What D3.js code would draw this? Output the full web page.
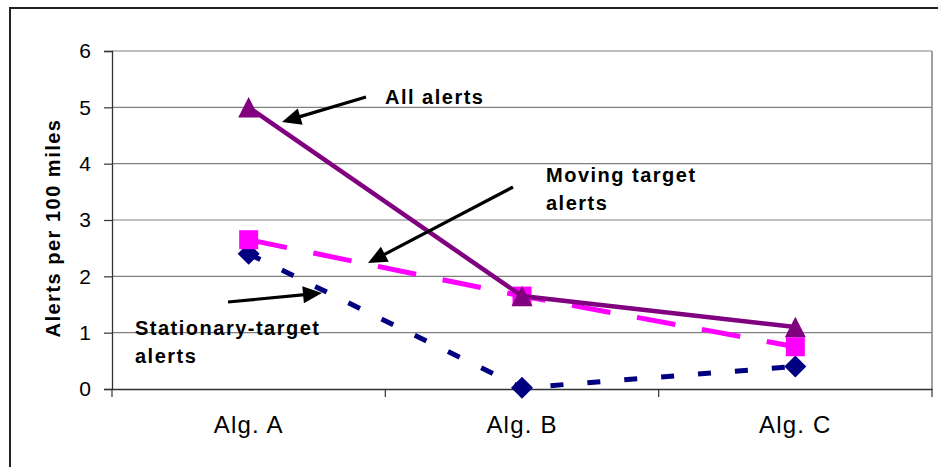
<!DOCTYPE html>
<html>
<head>
<meta charset="utf-8">
<script src="https://cdn.jsdelivr.net/npm/d3@7"></script>
<style>
  html, body { margin: 0; padding: 0; background: #fff; }
  svg { display: block; font-family: "Liberation Sans", Arial, sans-serif; }
</style>
</head>
<body>
<svg id="chart"></svg>
<script>
const categories = ["Alg. A", "Alg. B", "Alg. C"];
const allAlerts = [5.0, 1.65, 1.1];
const movingAlerts = [2.65, 1.65, 0.75];
const stationaryAlerts = [2.4, 0.02, 0.4];
const yTicks = [0, 1, 2, 3, 4, 5, 6];

const width = 938,
  height = 467,
  plotLeft = 112, plotRight = 932,   // plot area
  plotTop = 51, plotBottom = 389;

const svg = d3.select("#chart")
  .attr("width", width)
  .attr("height", height);

// chart border (runs off the right / bottom edge like the original)
svg.append("rect")
  .attr("x", 10).attr("y", 8)
  .attr("width", 960).attr("height", 480)
  .attr("fill", "none")
  .attr("stroke", "#222")
  .attr("stroke-width", 2);

const x = d3.scaleBand().domain(categories).range([plotLeft, plotRight]);
const y = d3.scaleLinear().domain([0, 6]).range([plotBottom, plotTop]);
const cx = d => x(d) + x.bandwidth() / 2;

// gridlines
svg.append("g")
  .selectAll("line")
  .data(yTicks.filter(t => t > 0))
  .join("line")
  .attr("x1", plotLeft).attr("x2", plotRight)
  .attr("y1", d => y(d)).attr("y2", d => y(d))
  .attr("stroke", "#808080")
  .attr("stroke-width", 1.2);

// right border of plot area
svg.append("line")
  .attr("x1", plotRight).attr("x2", plotRight)
  .attr("y1", plotTop).attr("y2", plotBottom)
  .attr("stroke", "#808080")
  .attr("stroke-width", 1.5);

// y axis
const yAxis = svg.append("g")
  .attr("transform", `translate(${plotLeft},0)`)
  .call(d3.axisLeft(y).tickValues(yTicks).tickFormat(d3.format("d")).tickSize(8).tickPadding(13));
yAxis.select(".domain").attr("stroke", "#333").attr("stroke-width", 1.3);
yAxis.selectAll(".tick line").attr("stroke", "#333").attr("stroke-width", 1.2);
yAxis.selectAll("text")
  .attr("font-size", 21)
  .attr("font-family", "Liberation Sans, Arial, sans-serif")
  .attr("fill", "#000");

// x axis: ticks sit on the category boundaries
const xAxis = svg.append("g")
  .attr("transform", `translate(0,${plotBottom})`)
  .call(d3.axisBottom(x).tickSize(0).tickPadding(27));
xAxis.select(".domain").attr("stroke", "#333").attr("stroke-width", 1.5);
xAxis.selectAll("text")
  .attr("font-size", 24)
  .attr("letter-spacing", 1.2)
  .attr("font-family", "Liberation Sans, Arial, sans-serif")
  .attr("fill", "#000");
xAxis.selectAll(".boundary")
  .data(categories.map(c => x(c)).concat([plotRight]))
  .join("line")
  .attr("class", "boundary")
  .attr("x1", d => d).attr("x2", d => d)
  .attr("y1", 0).attr("y2", 8)
  .attr("stroke", "#333")
  .attr("stroke-width", 1.2);

// y axis title
svg.append("text")
  .attr("transform", "translate(60,228) rotate(-90)")
  .attr("text-anchor", "middle")
  .attr("font-size", 20)
  .attr("font-weight", "bold")
  .attr("letter-spacing", 1.5)
  .text("Alerts per 100 miles");

// marker shapes, size = box width in px, centred on the point
const markTriangle = {draw(ctx, s) { const h = s * 0.98; ctx.moveTo(0, -h / 2); ctx.lineTo(s / 2, h / 2); ctx.lineTo(-s / 2, h / 2); ctx.closePath(); }};
const markSquare = {draw(ctx, s) { ctx.rect(-s / 2, -s / 2, s, s); }};
const markDiamond = {draw(ctx, s) { const r = s / 2; ctx.moveTo(0, -r); ctx.lineTo(r, 0); ctx.lineTo(0, r); ctx.lineTo(-r, 0); ctx.closePath(); }};

// series
const series = [
  {name: "Stationary-target alerts", values: stationaryAlerts, color: "#000080", width: 5, dash: "13,24", symbol: markDiamond, size: 22},
  {name: "Moving target alerts", values: movingAlerts, color: "#ff00ff", width: 5, dash: "39,27", symbol: markSquare, size: 19},
  {name: "All alerts", values: allAlerts, color: "#800080", width: 4.5, dash: null, symbol: markTriangle, size: 21}
];

const line = d3.line()
  .x((d, i) => cx(categories[i]))
  .y(d => y(d));

series.forEach(s => {
  const g = svg.append("g");
  g.append("path")
    .datum(s.values)
    .attr("d", line)
    .attr("fill", "none")
    .attr("stroke", s.color)
    .attr("stroke-width", s.width)
    .attr("stroke-dasharray", s.dash);
  g.selectAll("path.marker")
    .data(s.values)
    .join("path")
    .attr("class", "marker")
    .attr("transform", (d, i) => `translate(${cx(categories[i])},${y(d)})`)
    .attr("d", d3.symbol().type(s.symbol).size(s.size))
    .attr("fill", s.color);
});

// annotations
const notes = [
  {lines: ["All alerts"], tx: 385, ty: 104, from: [366, 97], to: [282, 122]},
  {lines: ["Moving target", "alerts"], tx: 546, ty: 182, from: [513, 187], to: [368, 263]},
  {lines: ["Stationary-target", "alerts"], tx: 135, ty: 335, from: [228, 302], to: [322, 293]}
];

const headLen = 19, headHalf = 8.5;
notes.forEach(n => {
  const t = svg.append("text")
    .attr("x", n.tx).attr("y", n.ty)
    .attr("font-size", 20)
    .attr("font-weight", "bold")
    .attr("letter-spacing", 1.5);
  n.lines.forEach((l, i) => {
    t.append("tspan").attr("x", n.tx).attr("dy", i ? 27.5 : 0).text(l);
  });

  const dx = n.to[0] - n.from[0], dy = n.to[1] - n.from[1];
  const len = Math.hypot(dx, dy), ux = dx / len, uy = dy / len;
  const bx = n.to[0] - ux * headLen, by = n.to[1] - uy * headLen;
  svg.append("line")
    .attr("x1", n.from[0]).attr("y1", n.from[1])
    .attr("x2", bx + ux * 2).attr("y2", by + uy * 2)
    .attr("stroke", "#000")
    .attr("stroke-width", 3.2);
  svg.append("path")
    .attr("d", `M${n.to[0]},${n.to[1]}L${bx - uy * headHalf},${by + ux * headHalf}L${bx + uy * headHalf},${by - ux * headHalf}Z`)
    .attr("fill", "#000");
});
</script>
</body>
</html>
